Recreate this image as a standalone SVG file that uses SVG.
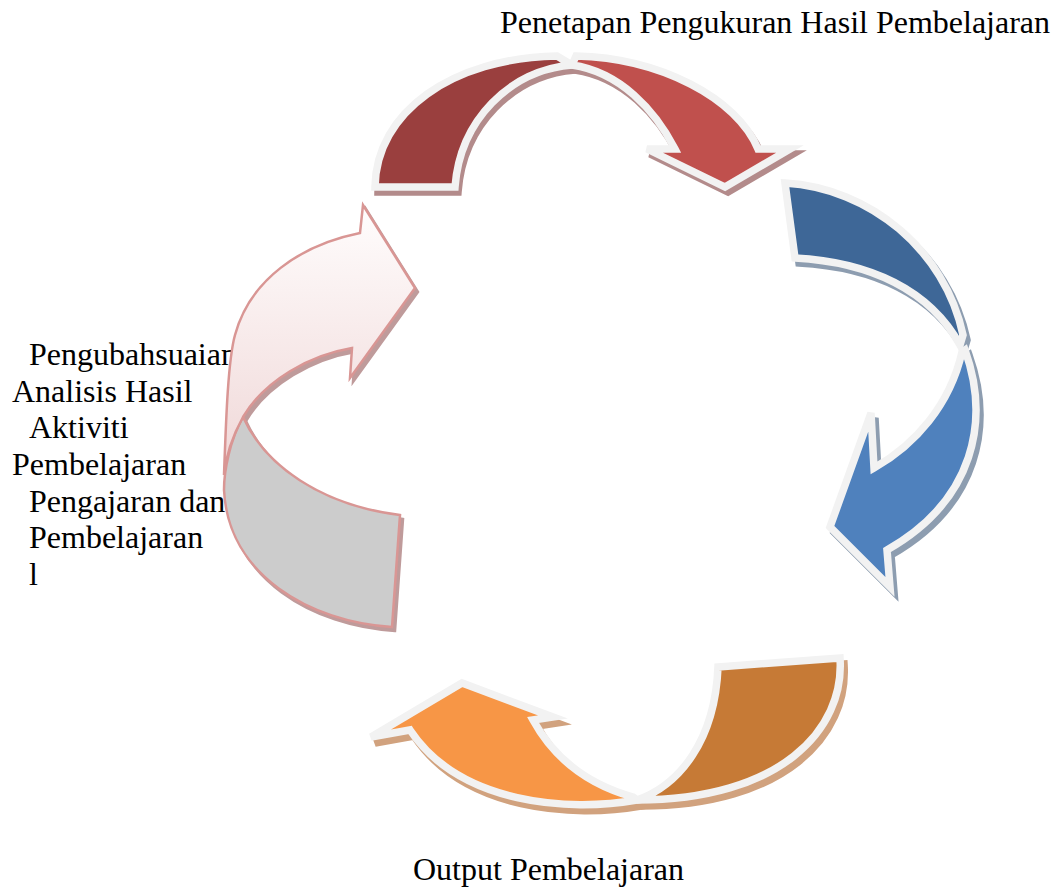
<svg xmlns="http://www.w3.org/2000/svg" width="1054" height="888" viewBox="0 0 1054 888">
<style>
.lbl{font-family:"Liberation Serif","Times New Roman",serif;font-size:32px;fill:#000}
.face{stroke:#f2f2f2;stroke-width:7.5;stroke-linejoin:miter}
.shRed{fill:#b38b8b;stroke:#b38b8b;stroke-width:7.5}
.shBlue{fill:#8d9db0;stroke:#8d9db0;stroke-width:7.5}
.shOr{fill:#d1a27e;stroke:#d1a27e;stroke-width:7.5}
.shPink{fill:#bf9b9b;stroke:#bf9b9b;stroke-width:2.5}
.pinkEdge{stroke:#d99694;stroke-width:2.5;stroke-linejoin:miter}
</style>
<defs>
<linearGradient id="pinkGrad" x1="0" y1="205" x2="0" y2="470" gradientUnits="userSpaceOnUse">
<stop offset="0" stop-color="#fffdfd"/>
<stop offset="1" stop-color="#f0d8d8"/>
</linearGradient>
</defs>
<rect width="1054" height="888" fill="#fff"/>

<g id="labels">
<text class="lbl" x="500" y="33">Penetapan Pengukuran Hasil Pembelajaran</text>
<text class="lbl" x="413" y="880">Output Pembelajaran</text>
<text class="lbl" x="29" y="365">Pengubahsuaian</text>
<text class="lbl" x="12" y="402">Analisis Hasil</text>
<text class="lbl" x="29" y="438">Aktiviti</text>
<text class="lbl" x="12" y="475">Pembelajaran</text>
<text class="lbl" x="29" y="512">Pengajaran dan</text>
<text class="lbl" x="29" y="548">Pembelajaran</text>
<text class="lbl" x="29" y="585">l</text>
</g>

<g id="arrow-left">
<g transform="translate(3,4)">
<path class="shPink" d="M243,417 C265,465 320,505 400,515 L392,627 C310,622 228,575 224,490 C224,470 230,440 243,417 Z"/>
<path class="shPink" d="M224,475 C226,420 228,360 235,335 C250,280 300,245 360,233 L363,205 L415,288 L350,378 L352,348 C310,355 265,380 243,417 C233,435 226,455 224,475 Z"/>
</g>
<path class="pinkEdge" fill="#cccccc" d="M243,417 C265,465 320,505 400,515 L392,627 C310,622 228,575 224,490 C224,470 230,440 243,417 Z"/>
<path class="pinkEdge" fill="url(#pinkGrad)" d="M224,475 C226,420 228,360 235,335 C250,280 300,245 360,233 L363,205 L415,288 L350,378 L352,348 C310,355 265,380 243,417 C233,435 226,455 224,475 Z"/>
</g>

<g id="arrow-top">
<g transform="translate(3,5)">
<path class="shRed" d="M375,187 C376,112 452,58 557,56 L572,65 C510,70 460,120 455,187 Z"/>
<path class="shRed" d="M576,56 C660,58 737,98 758,149 L790,149 L725,187 L647,149 L675,149 C655,110 620,72 572,65 Z"/>
</g>
<path class="face" fill="#9a3f3e" d="M375,187 C376,112 452,58 557,56 L572,65 C510,70 460,120 455,187 Z"/>
<path class="face" fill="#c0504d" d="M576,56 C660,58 737,98 758,149 L790,149 L725,187 L647,149 L675,149 C655,110 620,72 572,65 Z"/>
</g>

<g id="arrow-right">
<g transform="translate(4,5)">
<path class="shBlue" d="M785,183 C870,188 945,250 963,335 L960,345 C930,290 870,262 795,258 Z"/>
<path class="shBlue" d="M965,350 C990,420 975,500 887,550 L890,587 L830,527 L871,413 L874,468 C915,445 950,405 962,352 Z"/>
</g>
<path class="face" fill="#3e6797" d="M785,183 C870,188 945,250 963,335 L960,345 C930,290 870,262 795,258 Z"/>
<path class="face" fill="#4f81bd" d="M965,350 C990,420 975,500 887,550 L890,587 L830,527 L871,413 L874,468 C915,445 950,405 962,352 Z"/>
</g>

<g id="arrow-bottom">
<g transform="translate(4,6)">
<path class="shOr" d="M718,667 L840,658 C845,730 780,800 637,800 C680,785 715,740 718,667 Z"/>
<path class="shOr" d="M637,800 C570,812 460,805 410,730 L371,737 L462,683 L553,717 L533,720 C555,760 590,785 633,797 Z"/>
</g>
<path class="face" fill="#c67a36" d="M718,667 L840,658 C845,730 780,800 637,800 C680,785 715,740 718,667 Z"/>
<path class="face" fill="#f79646" d="M637,800 C570,812 460,805 410,730 L371,737 L462,683 L553,717 L533,720 C555,760 590,785 633,797 Z"/>
</g>
</svg>
